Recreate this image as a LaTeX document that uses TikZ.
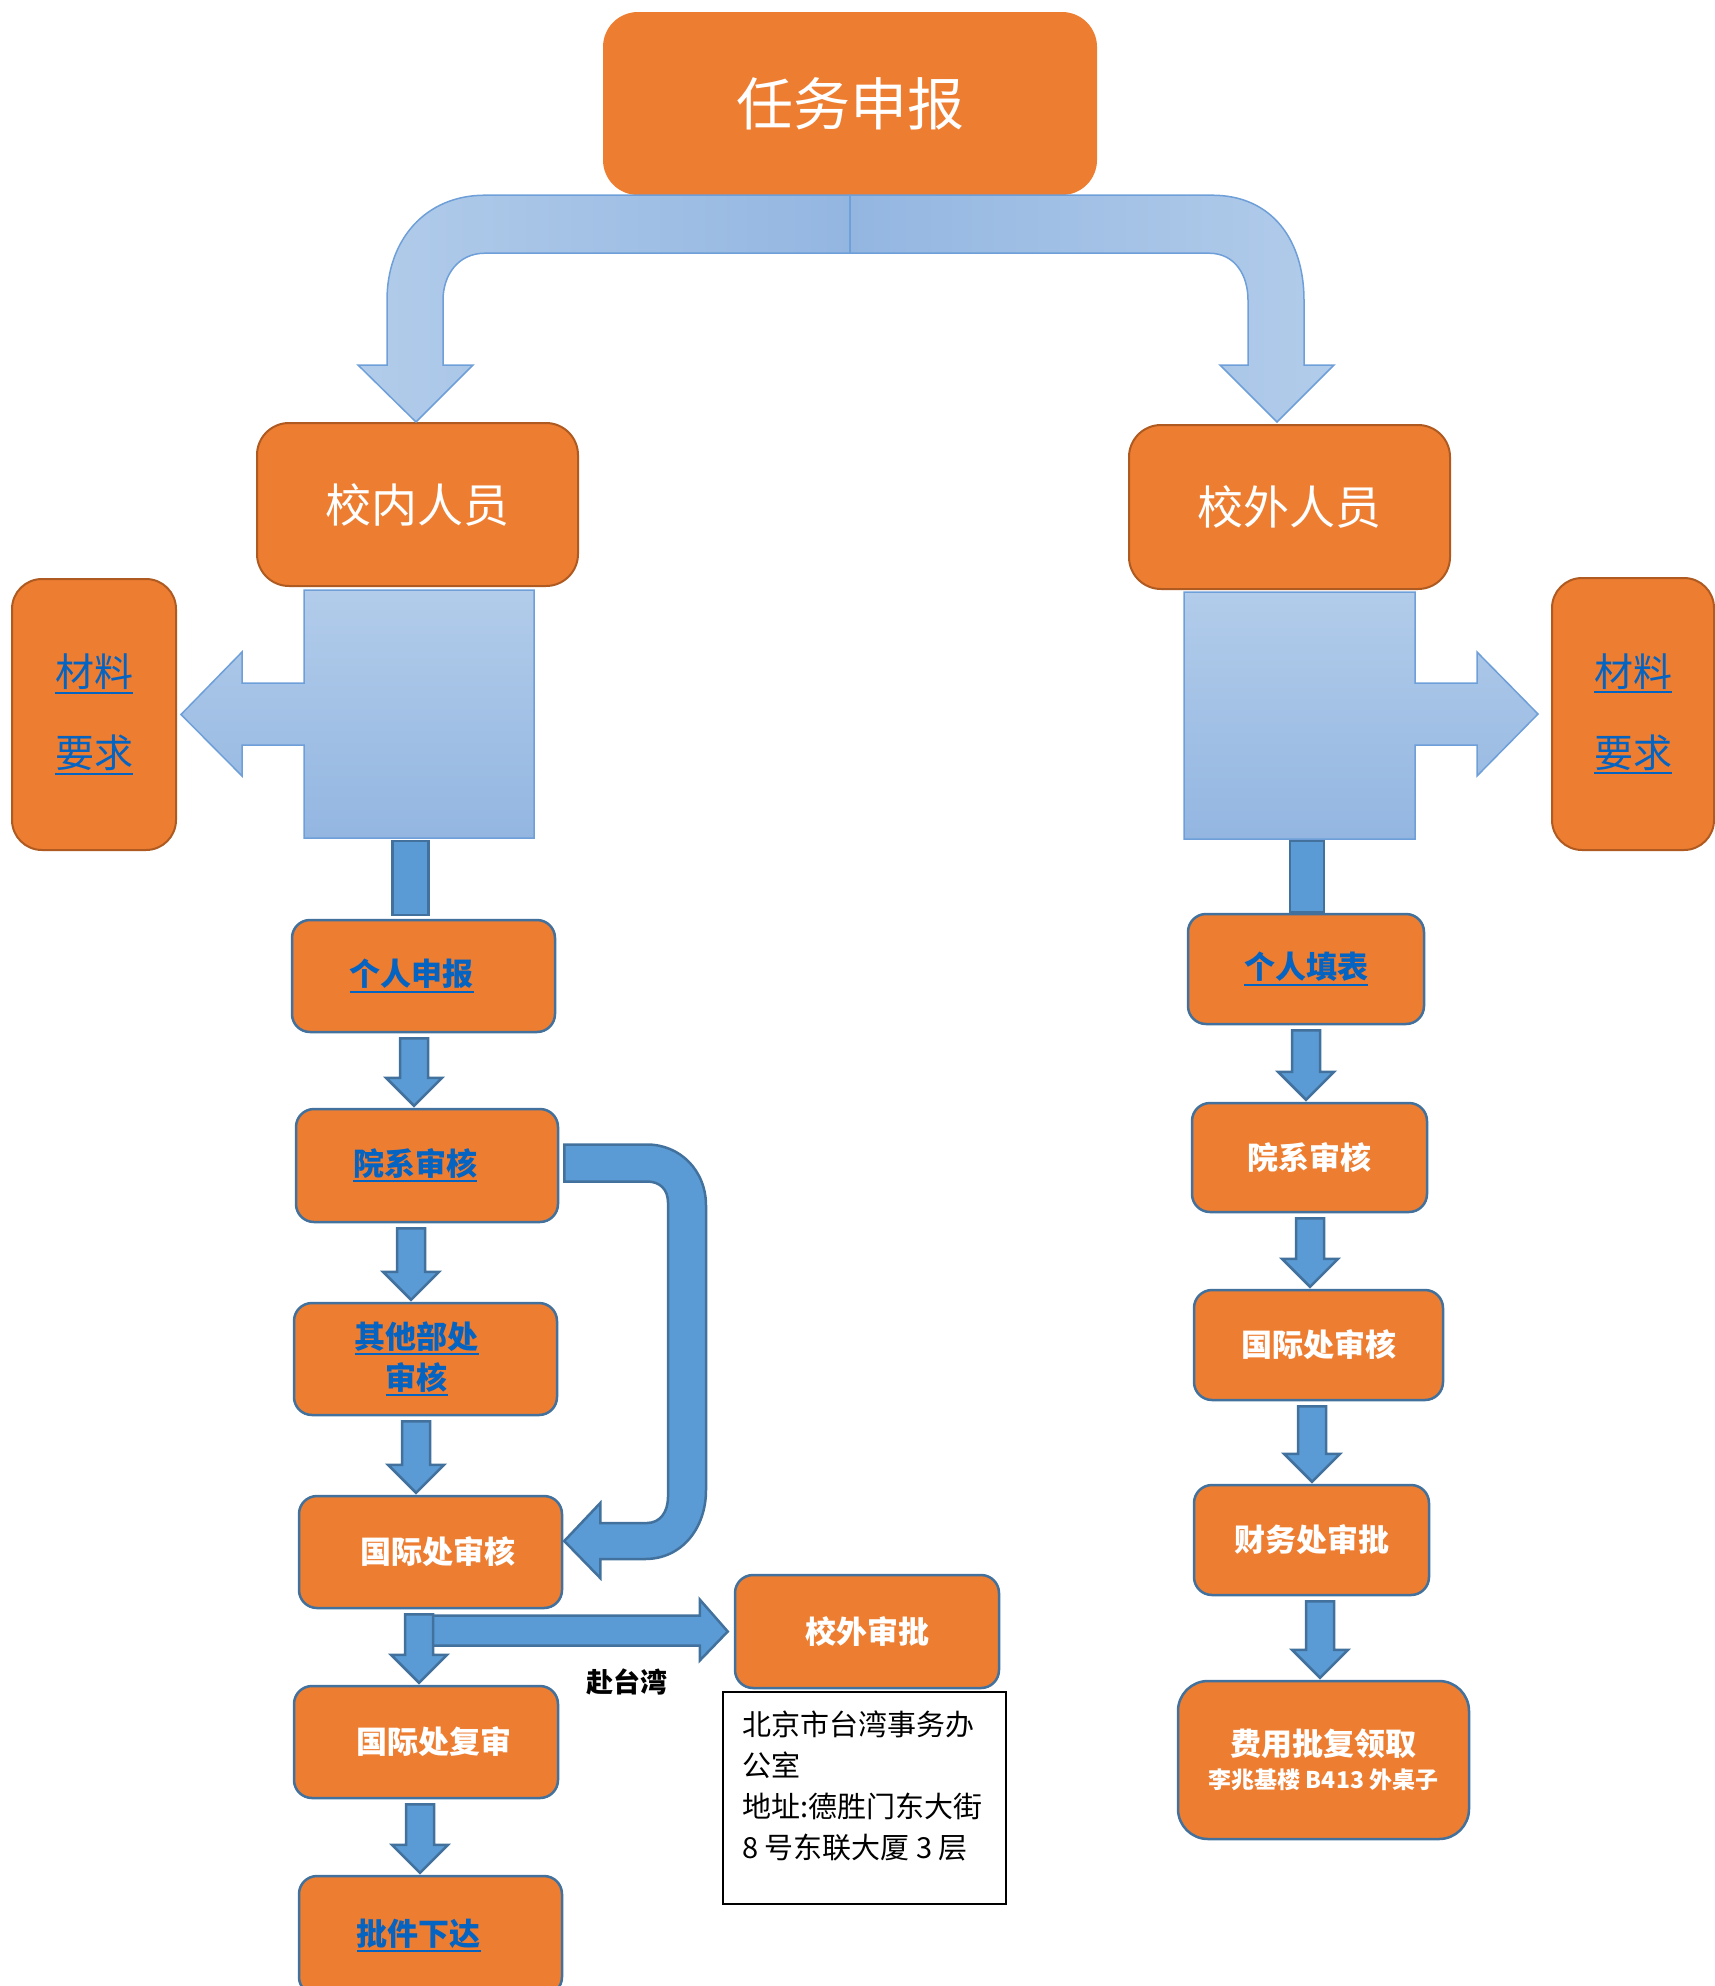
\documentclass[tikz,border=0pt]{standalone}
\usepackage{fontspec}
\setmainfont{Noto Sans CJK SC}
\usetikzlibrary{calc}

\definecolor{orng}{HTML}{ED7D31}
\definecolor{orngdk}{HTML}{AE5A21}
\definecolor{arrblue}{HTML}{5B9BD5}
\definecolor{arrline}{HTML}{41719C}
\definecolor{palelt}{HTML}{B2CCEA}
\definecolor{paledk}{HTML}{93B6E1}
\definecolor{paleline}{HTML}{6E9FD8}
\definecolor{linkblue}{HTML}{0563C1}

\newcommand\fsz[1]{\fontsize{#1}{#1}\selectfont}
% hyperlink-style text: blue with a rule underneath
\newcommand\lnk[1]{\textcolor{linkblue}{\setbox0=\hbox{#1}\rlap{\rule[-7pt]{\wd0}{2.2pt}}\box0}}

% block arrow pointing down from node #1 to node #2 along axis x = #3
\newcommand\dnarrow[3]{%
  \filldraw[blockarrow] let \p1=(#1.south), \p2=(#2.north) in
    (#3pt-14pt,\y1-5pt) -- (#3pt+14pt,\y1-5pt) -- (#3pt+14pt,\y2+30pt)
    -- (#3pt+28pt,\y2+30pt) -- (#3pt,\y2+2pt) -- (#3pt-28pt,\y2+30pt)
    -- (#3pt-14pt,\y2+30pt) -- cycle;}

\tikzset{
  topbox/.style={fill=orng, draw=none, rounded corners=35pt, text=white, inner sep=0pt},
  headbox/.style={fill=orng, draw=orngdk, line width=2pt, rounded corners=32pt, text=white, inner sep=0pt},
  stepbox/.style={fill=orng, draw=arrline, line width=2.5pt, rounded corners=18pt, text=white,
    inner sep=0pt, font=\fsz{31}\bfseries},
  blockarrow/.style={fill=arrblue, draw=arrline, line width=2.5pt, line join=miter},
  palearrow/.style={draw=paleline, line width=1.5pt, line join=miter},
}

\begin{document}
\begin{tikzpicture}[x=1pt,y=-1pt]
\useasboundingbox (0,0) rectangle (1715,1986);

% ---- top level ----
\node[topbox, minimum width=494pt, minimum height=183pt] (task) at (850,103.5) {\fsz{57}任务申报};
\node[headbox, minimum width=321pt, minimum height=163pt] (inner) at (417.5,504.5) {\fsz{46}校内人员};
\node[headbox, minimum width=321pt, minimum height=164pt] (outer) at (1289.5,507) {\fsz{46}校外人员};

\node[headbox, rounded corners=30pt, minimum width=164pt, minimum height=271pt, align=center,
      font=\fontsize{39}{81}\selectfont] (matL) at (94,714.5) {\lnk{材料}\\\lnk{要求}};
\node[headbox, rounded corners=30pt, minimum width=162pt, minimum height=272pt, align=center,
      font=\fontsize{39}{81}\selectfont] (matR) at (1633,714) {\lnk{材料}\\\lnk{要求}};

% ---- staff of the university ----
\node[stepbox, minimum width=263pt, minimum height=112pt] (pers) at (423.5,976) {\lnk{个人申报}\kern24pt};
\node[stepbox, minimum width=262pt, minimum height=113pt] (dept) at (427,1165.5) {\lnk{院系审核}\kern24pt};
\node[stepbox, minimum width=263pt, minimum height=112pt, align=center,
      font=\fontsize{31}{41}\selectfont\bfseries] (other) at (425.5,1359)
      {\lnk{其他部处}\kern18pt\\\lnk{审核}\kern18pt};
\node[stepbox, minimum width=263pt, minimum height=112pt] (intl) at (430.5,1552) {\kern14pt 国际处审核};
\node[stepbox, minimum width=264pt, minimum height=112pt] (recheck) at (426,1742) {\kern16pt 国际处复审};
\node[stepbox, minimum width=263pt, minimum height=119pt] (issue) at (430.5,1935.5) {\lnk{批件下达}\kern24pt};

\node[stepbox, minimum width=264pt, minimum height=113pt] (ext) at (867,1631.5) {校外审批};
\node[draw=black, line width=1.5pt, fill=white, minimum width=283pt, minimum height=212pt, inner sep=0pt]
      (addr) at (864.5,1798) {};
\node[anchor=west, align=left, font=\fontsize{29}{41}\selectfont, inner sep=0pt] (addrtxt) at (742,1786)
      {北京市台湾事务办\\公室\\地址:德胜门东大街\\8 号东联大厦 3 层};
\node[font=\fsz{27}\bfseries] (tw) at (627,1682) {赴台湾};

% ---- visitors ----
\node[stepbox, minimum width=236pt, minimum height=110pt] (pfill) at (1306,969) {\lnk{个人填表}};
\node[stepbox, minimum width=235pt, minimum height=109pt] (rdept) at (1309.5,1157.5) {院系审核};
\node[stepbox, minimum width=249pt, minimum height=110pt] (rintl) at (1318.5,1345) {国际处审核};
\node[stepbox, minimum width=235pt, minimum height=110pt] (fin) at (1311.5,1540) {财务处审批};
\node[stepbox, rounded corners=30pt, minimum width=291pt, minimum height=158pt, align=center]
      (fee) at (1323.5,1760) {费用批复领取\\[2pt]{\fsz{23}李兆基楼 B413 外桌子}};

% ---- split arrow below the top box ----
\shadedraw[palearrow, left color=palelt, right color=paledk] let \p1=(task.south), \p2=(inner.north) in
  (\x1,\y1) -- (485pt,\y1) .. controls (425pt,\y1) and (387pt,\y1-45pt) .. (387pt,\y1-105pt)
  -- (387pt,\y2+57pt) -- (358pt,\y2+57pt) -- (416pt,\y2) -- (473pt,\y2+57pt) -- (443pt,\y2+57pt)
  -- (443pt,\y1-105pt) .. controls (443pt,\y1-80pt) and (458pt,\y1-58pt) .. (485pt,\y1-58pt)
  -- (\x1,\y1-58pt) -- cycle;
\shadedraw[palearrow, left color=paledk, right color=palelt] let \p1=(task.south), \p2=(outer.north) in
  (\x1,\y1) -- (1212pt,\y1) .. controls (1272pt,\y1) and (1304pt,\y1-45pt) .. (1304pt,\y1-105pt)
  -- (1304pt,\y2+59pt) -- (1334pt,\y2+59pt) -- (1277pt,\y2+2pt) -- (1220pt,\y2+59pt) -- (1248pt,\y2+59pt)
  -- (1248pt,\y1-105pt) .. controls (1248pt,\y1-80pt) and (1235pt,\y1-58pt) .. (1209pt,\y1-58pt)
  -- (\x1,\y1-58pt) -- cycle;

% ---- side callouts towards the material boxes ----
\shadedraw[palearrow, top color=palelt, bottom color=paledk] let \p1=(matL.east) in
  (304,590) -- (534,590) -- (534,838) -- (304,838) -- (304,745) -- (242,745) -- (242,776)
  -- (\x1+4pt,\y1) -- (242,652) -- (242,683) -- (304,683) -- cycle;
\shadedraw[palearrow, top color=palelt, bottom color=paledk] let \p1=(matR.west) in
  (1184,592) -- (1415,592) -- (1415,683) -- (1477,683) -- (1477,652) -- (\x1-13pt,\y1)
  -- (1477,776) -- (1477,745) -- (1415,745) -- (1415,839) -- (1184,839) -- cycle;

\coordinate (lbot) at (410.5,838);
\coordinate (rbot) at (1307,839);
\filldraw[blockarrow] let \p1=(lbot), \p2=(pers.north) in (\x1-18pt,\y1-3pt) rectangle (\x1+18pt,\y2+4pt);
\filldraw[blockarrow] let \p1=(rbot), \p2=(pfill.north) in (\x1-17pt,\y1-2pt) rectangle (\x1+17pt,\y2+1pt);

% ---- flow arrows, left column ----
\dnarrow{pers}{dept}{414}
\dnarrow{dept}{other}{411}
\dnarrow{other}{intl}{416}
\dnarrow{recheck}{issue}{420}

% bypass from the department review straight to the international office
\filldraw[blockarrow] let \p1=(dept.east), \p2=(intl.east) in
  (\x1+5pt,\y1+21pt) -- (647pt,\y1+21pt) .. controls (680pt,\y1+21pt) and (706pt,\y1-5pt) .. (706pt,\y1-40pt)
  -- (706pt,\y2+62pt) .. controls (706pt,\y2+24pt) and (682pt,\y2-7pt) .. (645pt,\y2-7pt)
  -- (\x2+37pt,\y2-7pt) -- (\x2+37pt,\y2-26pt) -- (\x2+1pt,\y2+11pt) -- (\x2+37pt,\y2+49pt)
  -- (\x2+37pt,\y2+29pt) -- (647pt,\y2+29pt) .. controls (660pt,\y2+29pt) and (668pt,\y2+40pt) .. (668pt,\y2+55pt)
  -- (668pt,\y1-37pt) .. controls (668pt,\y1-24pt) and (660pt,\y1-16pt) .. (647pt,\y1-16pt)
  -- (\x1+5pt,\y1-16pt) -- cycle;

% branch to the external approval, then the downward arrow on top
\filldraw[blockarrow] let \p1=(ext.west) in
  (420pt,\y1+16pt) -- (\x1-34pt,\y1+16pt) -- (\x1-34pt,\y1+32pt) -- (\x1-6pt,\y1)
  -- (\x1-34pt,\y1-29pt) -- (\x1-34pt,\y1-14pt) -- (420pt,\y1-14pt) -- cycle;
\dnarrow{intl}{recheck}{419}

% ---- flow arrows, right column ----
\dnarrow{pfill}{rdept}{1306}
\dnarrow{rdept}{rintl}{1310}
\dnarrow{rintl}{fin}{1312}
\dnarrow{fin}{fee}{1320}
\end{tikzpicture}
\end{document}
